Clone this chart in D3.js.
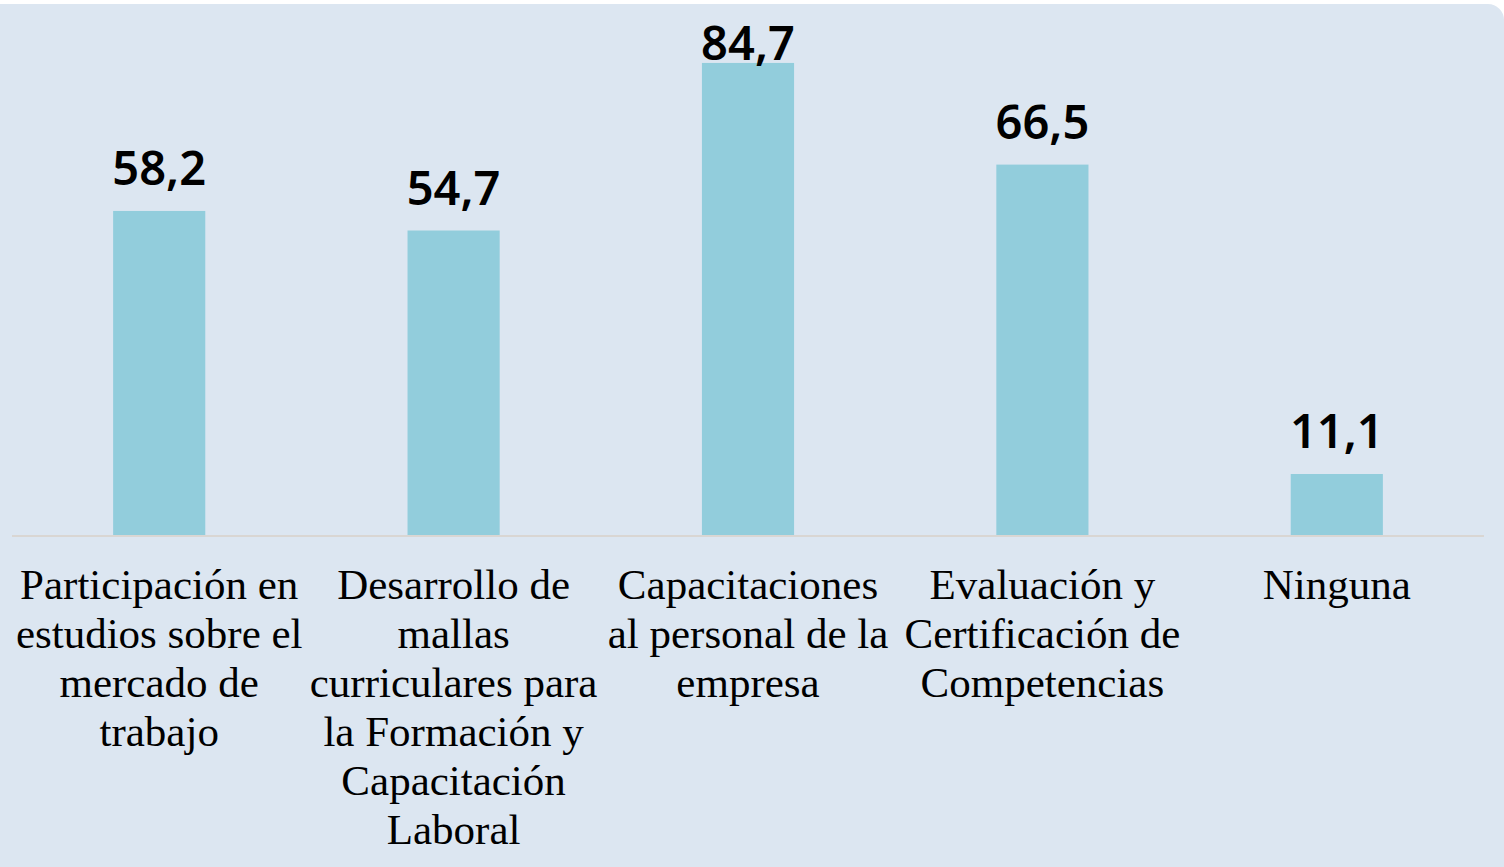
<!DOCTYPE html>
<html>
<head>
<meta charset="utf-8">
<script src="https://cdn.jsdelivr.net/npm/d3@7"></script>
<style>
  html, body { margin: 0; padding: 0; background: #ffffff; }
  svg { display: block; }
</style>
</head>
<body>
<div id="chart"></div>
<script>
// categories, broken into the lines shown under each bar
var categories = [
  "Participación en|estudios sobre el|mercado de|trabajo",
  "Desarrollo de|mallas|curriculares para|la Formación y|Capacitación|Laboral",
  "Capacitaciones|al personal de la|empresa",
  "Evaluación y|Certificación de|Competencias",
  "Ninguna"
];
var values = [58.2, 54.7, 84.7, 66.5, 11.1];

var width = 1504, height = 867;
var baseY = 536, left = 12, right = 1484;

var svg = d3.select("#chart")
  .append("svg")
  .attr("width", width)
  .attr("height", height);

// panel background
svg.append("rect")
  .attr("x", -30)
  .attr("y", 4)
  .attr("width", width + 30)
  .attr("height", height + 30)
  .attr("rx", 16)
  .style("fill", "#dce6f1");

var x = d3.scaleBand()
  .domain(d3.range(categories.length))
  .range([left, right])
  .paddingInner(0.687)
  .paddingOuter(0.3435);

var y = d3.scaleLinear()
  .domain([0, 90])
  .range([baseY, baseY - 5.585 * 90]);

svg.selectAll(".bar")
  .data(values)
  .enter()
  .append("rect")
  .attr("class", "bar")
  .attr("x", function(d, i){ return x(i); })
  .attr("width", x.bandwidth())
  .attr("y", function(d){ return y(d); })
  .attr("height", function(d){ return y(0) - y(d); })
  .style("fill", "#92cddc");

// baseline
svg.append("line")
  .attr("x1", left)
  .attr("x2", right)
  .attr("y1", baseY)
  .attr("y2", baseY)
  .style("stroke", "#d9d6d3")
  .style("stroke-width", 2);

// value labels (kept inside the panel when the bar is tall)
svg.selectAll(".val")
  .data(values)
  .enter()
  .append("text")
  .attr("class", "val")
  .attr("x", function(d, i){ return x(i) + x.bandwidth() / 2; })
  .attr("y", function(d){ return Math.max(y(d) - 26, 60); })
  .attr("text-anchor", "middle")
  .style("font-family", "'Noto Sans', sans-serif")
  .style("font-weight", 600)
  .style("font-size", "47px")
  .style("fill", "#000")
  .text(function(d){ return d3.format(".1f")(d).replace(".", ","); });

// category labels
var cats = svg.selectAll(".cat")
  .data(categories)
  .enter()
  .append("text")
  .attr("class", "cat")
  .attr("text-anchor", "middle")
  .style("font-family", "'Liberation Serif', 'Times New Roman', serif")
  .style("font-size", "43px")
  .style("fill", "#000");

cats.each(function(d, i){
  var t = d3.select(this);
  d.split("|").forEach(function(line, j){
    t.append("tspan")
      .attr("x", x(i) + x.bandwidth() / 2)
      .attr("y", 599 + j * 49)
      .text(line);
  });
});
</script>
</body>
</html>
